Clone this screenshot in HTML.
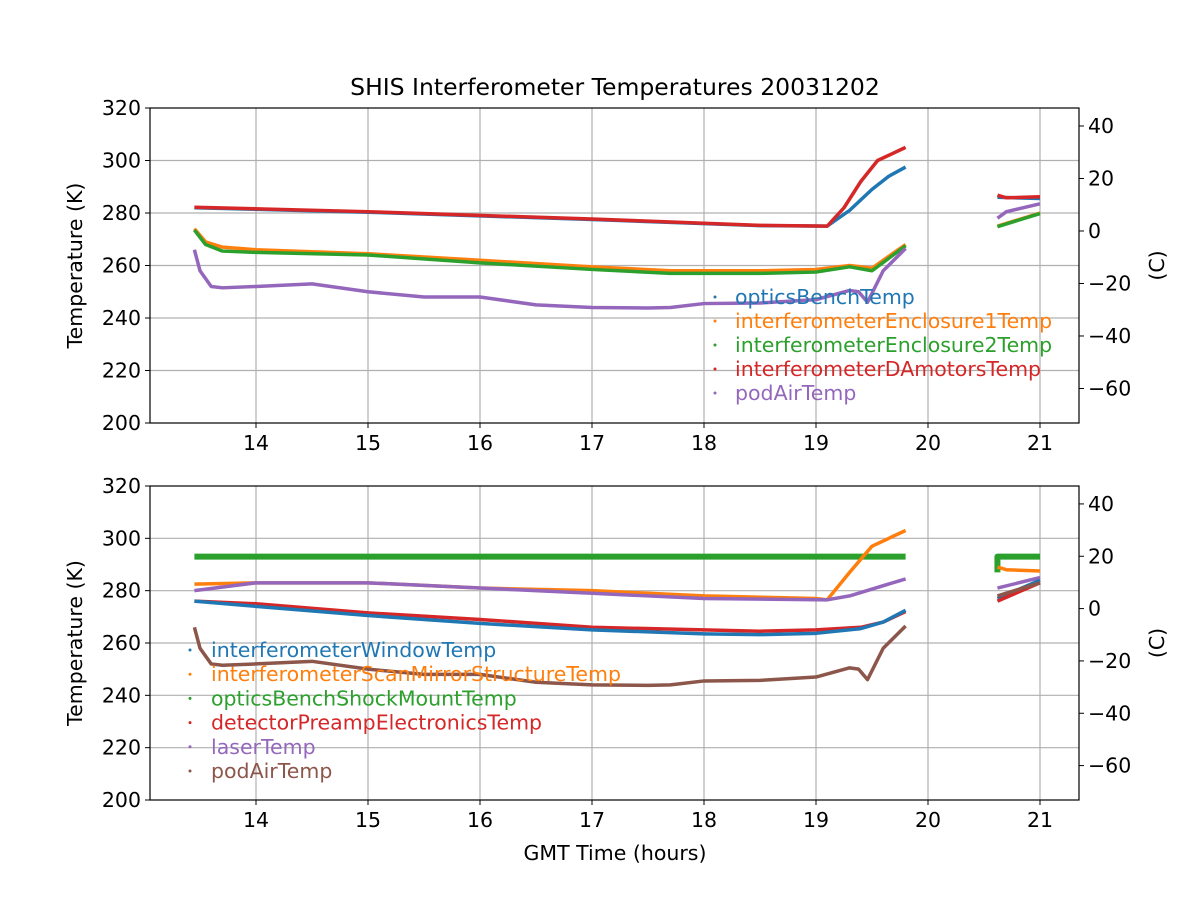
<!DOCTYPE html>
<html><head><meta charset="utf-8"><style>
html,body{margin:0;padding:0;background:#fff}
svg{display:block;font-family:"DejaVu Sans","Liberation Sans",sans-serif}
</style></head><body>
<svg id="s" width="1200" height="900" xmlns="http://www.w3.org/2000/svg">
<rect width="1200" height="900" fill="#fff"/>
<text x="615" y="95" font-size="23.5" text-anchor="middle">SHIS Interferometer Temperatures 20031202</text>
<g id="g"></g>
<text x="615" y="860" font-size="20.5" text-anchor="middle">GMT Time (hours)</text>
</svg>
<script>
const NS="http://www.w3.org/2000/svg",G=document.getElementById('g');
function el(t,a,txt){const e=document.createElementNS(NS,t);for(const k in a)e.setAttribute(k,a[k]);if(txt!==undefined)e.textContent=txt;G.appendChild(e);return e;}
const X=h=>256+(h-14)*112;
const FS=20.5;
function axes(top,bot){
  const Y=k=>top+(320-k)*(bot-top)/120;
  for(let h=14;h<=21;h++){el('line',{x1:X(h),x2:X(h),y1:top,y2:bot,stroke:'#b0b0b0','stroke-width':1.2});
    el('line',{x1:X(h),x2:X(h),y1:bot,y2:bot+5,stroke:'#000'});
    el('text',{x:X(h),y:bot+27,'font-size':FS,'text-anchor':'middle'},h);}
  for(let k=200;k<=320;k+=20){const y=Y(k);
    if(k>200&&k<320)el('line',{x1:150,x2:1079,y1:y,y2:y,stroke:'#b0b0b0','stroke-width':1.2});
    el('line',{x1:145,x2:150,y1:y,y2:y,stroke:'#000'});
    el('text',{x:141,y:y+7,'font-size':FS,'text-anchor':'end'},k);}
  for(let c=-60;c<=40;c+=20){const y=Y(c+273.15);
    el('line',{x1:1079,x2:1084,y1:y,y2:y,stroke:'#000'});
    el('text',{x:1088,y:y+7,'font-size':FS},c<0?'\u2212'+(-c):c);}
  el('text',{x:82,y:(top+bot)/2,'font-size':FS,'text-anchor':'middle',transform:`rotate(-90 82 ${(top+bot)/2})`},'Temperature (K)');
  el('text',{x:1164,y:(top+bot)/2,'font-size':FS,'text-anchor':'middle',transform:`rotate(-90 1164 ${(top+bot)/2})`},'(C)');
  return Y;
}
function series(Y,pts,col,w){
  el('polyline',{points:pts.map(p=>X(p[0])+','+Y(p[1])).join(' '),fill:'none',stroke:col,'stroke-width':w||3.5,'stroke-linejoin':'round'});
}
function frame(top,bot){el('rect',{x:150,y:top,width:929,height:bot-top,fill:'none',stroke:'#000','stroke-width':1.2});}
const B='#1f77b4',O='#ff7f0e',Gr='#2ca02c',R='#d62728',P='#9467bd',Br='#8c564b';
const pod=[[13.45,266],[13.5,258],[13.6,252],[13.7,251.5],[14,252],[14.5,253],[15,250],[15.5,248],[16,248],[16.5,245],[17,244],[17.5,243.8],[17.7,244],[18,245.5],[18.5,245.7],[19,247],[19.3,250.5],[19.38,250],[19.46,246],[19.6,258],[19.8,266.5]];
let Y=axes(108,423);
series(Y,[[13.45,274],[13.55,269],[13.7,267],[14,266],[15,264.5],[16,262],[17,259.5],[17.7,258],[18.5,258],[19,258.5],[19.3,260],[19.5,259],[19.8,268]],O);
series(Y,[[13.45,273.5],[13.55,268],[13.7,265.5],[14,265],[15,264],[16,261],[17,258.5],[17.7,257],[18.5,257],[19,257.5],[19.3,259.5],[19.5,258],[19.8,267.5]],Gr);
series(Y,[[20.62,275],[21,280]],O);series(Y,[[20.62,274.8],[21,279.8]],Gr);
series(Y,pod,P);series(Y,[[20.62,278],[20.7,280.5],[21,283.5]],P);
series(Y,[[13.45,282],[15,280.3],[17,277.5],[18.5,275.2],[19.1,275],[19.3,281],[19.5,289],[19.65,294],[19.8,297.5]],B);
series(Y,[[13.45,282.2],[15,280.5],[17,277.7],[18.5,275.3],[19.1,275],[19.25,282],[19.4,292],[19.55,300],[19.8,305]],R);
series(Y,[[20.62,286],[21,285.5]],B);series(Y,[[20.62,286.8],[20.7,285.8],[21,286.2]],R);
frame(108,423);
[['opticsBenchTemp',B],['interferometerEnclosure1Temp',O],['interferometerEnclosure2Temp',Gr],['interferometerDAmotorsTemp',R],['podAirTemp',P]].forEach((l,i)=>{const y=297+i*24;
 el('circle',{cx:715,cy:y,r:1.5,fill:l[1]});el('text',{x:735,y:y+7,'font-size':FS,fill:l[1]},l[0]);});
Y=axes(486,800);
series(Y,[[13.45,293],[19.8,293]],Gr,6);
series(Y,[[20.62,287],[20.62,293],[21,293]],Gr,6);
series(Y,[[13.45,282.5],[14,283],[15,283],[16,281],[17,280],[18,278],[19,277],[19.1,276.5],[19.3,287],[19.5,297],[19.8,303]],O);
series(Y,[[20.62,289],[20.7,288],[21,287.5]],O);
series(Y,[[13.45,280],[14,283],[15,283],[16,281],[17,279],[18,277],[19.1,276.5],[19.3,278],[19.8,284.5]],P);
series(Y,[[20.62,281],[21,285]],P);
series(Y,[[13.45,276],[14,275],[15,271.5],[16,269],[17,266],[18,265],[18.5,264.5],[19,265],[19.4,266],[19.6,268],[19.8,272]],R);
series(Y,[[13.45,276],[14,274],[15,270.5],[16,267.5],[17,265],[18,263.5],[18.5,263.2],[19,263.7],[19.4,265.5],[19.6,268],[19.8,272.5]],B);
series(Y,[[20.62,277],[21,284]],B);series(Y,[[20.62,276],[21,283]],R);
series(Y,pod,Br);series(Y,[[20.62,278],[21,283]],Br);
frame(486,800);
[['interferometerWindowTemp',B],['interferometerScanMirrorStructureTemp',O],['opticsBenchShockMountTemp',Gr],['detectorPreampElectronicsTemp',R],['laserTemp',P],['podAirTemp',Br]].forEach((l,i)=>{const y=650+i*24.2;
 el('circle',{cx:190,cy:y,r:1.5,fill:l[1]});el('text',{x:211,y:y+7,'font-size':FS,fill:l[1]},l[0]);});
</script>
</body></html>
